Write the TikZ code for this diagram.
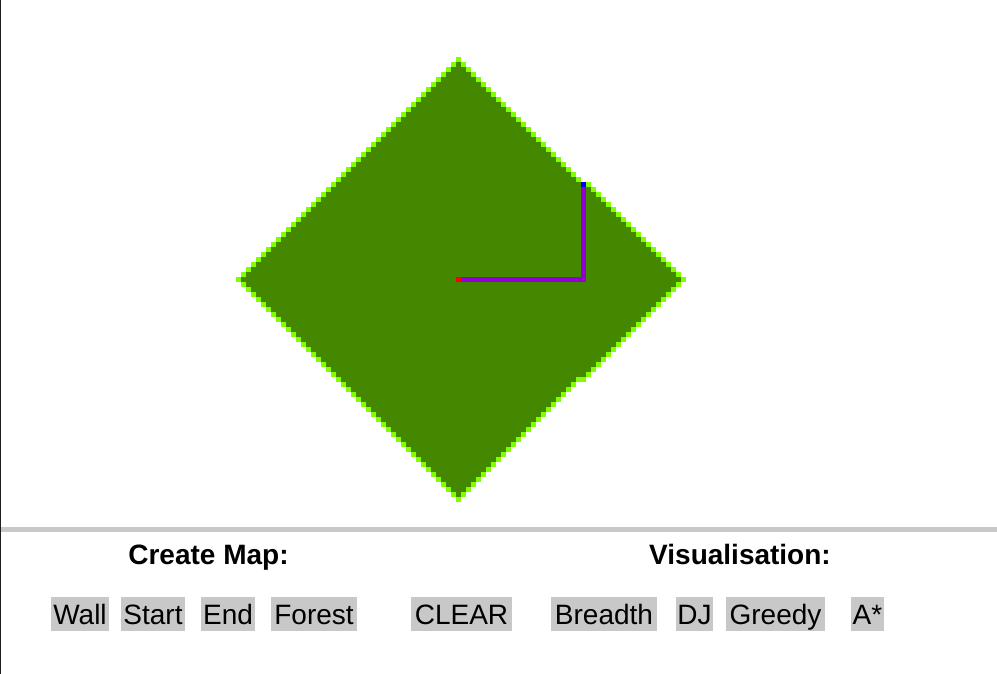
\documentclass[tikz,border=0pt]{standalone}
\usepackage{fontspec}
\setmainfont{Liberation Sans}
\usepackage{tikz}
\usetikzlibrary{positioning}

\definecolor{grassdark}{HTML}{448800}
\definecolor{grasslite}{HTML}{80FF00}
\definecolor{btngray}{HTML}{C8C8C8}
\definecolor{routeviolet}{HTML}{9400D3}
\definecolor{framedark}{HTML}{1E1E1E}

\begin{document}
\begin{tikzpicture}[
    x=1pt, y=-1pt,
    cell/.style={rectangle, minimum size=5pt, inner sep=0pt, outer sep=0pt},
    route/.style={draw=routeviolet, line width=5pt, line join=miter},
    button/.style={rectangle, fill=btngray, inner sep=0pt, text height=27pt, text depth=7pt, font=\fontsize{28}{30}\selectfont},
    heading/.style={anchor=base, inner sep=0pt, font=\fontsize{28}{30}\selectfont\bfseries}
]
    \useasboundingbox (0,0) rectangle (997,674);

    % Frame
    \draw[framedark, line width=1pt] (0.5,0) -- (0.5,674);
    \fill[btngray] (1,527) rectangle (997,532);

    % Forest grid
    \foreach \j in {-44,...,44} {
        \pgfmathtruncatemacro\k{44-abs(\j)}
        \pgfmathtruncatemacro\kk{\k+(\j>-20)*(\j<21)}
        \fill[grassdark] (456-5*\k,277+5*\j) rectangle (456+5*\kk,282+5*\j);
        \fill[grasslite] (456-5*\k,277+5*\j) rectangle +(5,5);
        \fill[grasslite] (456+5*\kk,277+5*\j) rectangle +(5,5);
    }
    \fill[grasslite] (576,377) rectangle +(5,5);

    % Path
    \node[cell, fill=red] (start) at (458.5,279.5) {};
    \node[cell, fill=blue] (goal) at (583.5,184.5) {};
    \draw[route] (start.east) -| (goal.south);

    % Create map
    \node[heading] (create) at (208.5,564) {Create Map:};
    \node[button, minimum width=58pt] (wall) at (80,614) {Wall};
    \node[button, minimum width=64pt] (startbtn) at (153,614) {Start};
    \node[button, minimum width=54pt] (endbtn) at (228,614) {End};
    \node[button, minimum width=86pt] (forest) at (314,614) {Forest};
    \node[button, minimum width=101pt] (clear) at (461.5,614) {CLEAR};

    % Visualisation
    \node[heading] (visual) at (740,564) {Visualisation:};
    \node[button, minimum width=106pt] (breadth) at (604,614) {Breadth};
    \node[button, minimum width=37pt] (dj) at (694.5,614) {DJ};
    \node[button, minimum width=99pt] (greedy) at (775.5,614) {Greedy};
    \node[button, minimum width=33pt] (astar) at (867.5,614) {A*};
\end{tikzpicture}
\end{document}
